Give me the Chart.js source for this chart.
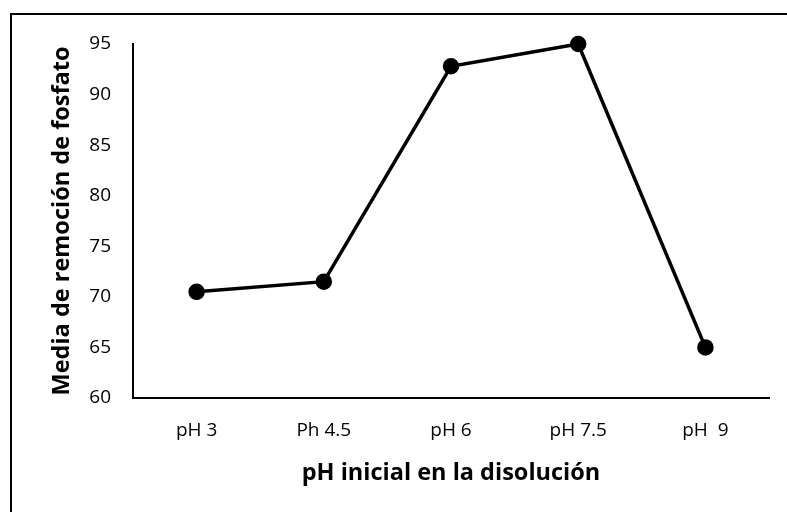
<!DOCTYPE html>
<html lang="es">
<head>
    <meta charset="UTF-8">
    <title>Remoción de fosfato</title>
    <script src="https://cdn.jsdelivr.net/npm/chart.js"></script>
    <style>
        body {
            margin: 0;
            background: #fff;
            overflow: hidden;
        }
        .frame {
            position: absolute;
            left: 10px;
            top: 13px;
            width: 900px;
            height: 600px;
            border-top: 2px solid #000;
            border-left: 2px solid #000;
        }
        .chart-container {
            position: absolute;
            left: 0;
            top: 0;
            width: 787px;
            height: 512px;
        }
    </style>
</head>
<body>
    <div class="frame"></div>
    <div class="chart-container">
        <canvas id="phChart"></canvas>
    </div>

    <script>
        const categories = ['pH 3', 'Ph 4.5', 'pH 6', 'pH 7.5', 'pH  9'];
        const removal = [70.5, 71.5, 92.8, 95, 65];

        const fontFamily = '"Open Sans", sans-serif';

        const ctx = document.getElementById('phChart').getContext('2d');
        new Chart(ctx, {
            type: 'line',
            data: {
                labels: categories,
                datasets: [{
                    label: 'Media',
                    data: removal,
                    borderColor: '#000',
                    backgroundColor: '#000',
                    borderWidth: 3.5,
                    pointRadius: 6.5,
                    pointHoverRadius: 6.5,
                    tension: 0,
                    clip: false
                }]
            },
            options: {
                responsive: true,
                maintainAspectRatio: false,
                animation: false,
                layout: {
                    padding: { top: 44, right: 18, left: 0, bottom: 0 }
                },
                plugins: {
                    legend: { display: false },
                    tooltip: { enabled: false }
                },
                scales: {
                    x: {
                        offset: true,
                        grid: { display: false, drawTicks: false },
                        border: { display: true, color: '#000', width: 2 },
                        ticks: {
                            color: '#000',
                            padding: 21,
                            font: { family: fontFamily, size: 19 }
                        },
                        title: {
                            display: true,
                            text: 'pH inicial en la disolución',
                            color: '#000',
                            padding: { bottom: 25 },
                            font: { family: fontFamily, size: 23.5, weight: 'bold' }
                        },
                        afterFit: scale => { scale.height = 114; }
                    },
                    y: {
                        min: 60,
                        max: 95,
                        grid: { display: false, drawTicks: false },
                        border: { display: true, color: '#000', width: 2 },
                        ticks: {
                            stepSize: 5,
                            color: '#000',
                            padding: 22,
                            font: { family: fontFamily, size: 19 }
                        },
                        title: {
                            display: true,
                            text: 'Media de remoción de fosfato',
                            color: '#000',
                            padding: { top: 48 },
                            font: { family: fontFamily, size: 23.5, weight: 'bold' }
                        },
                        afterFit: scale => { scale.width = 133; }
                    }
                }
            }
        });
    </script>
</body>
</html>
